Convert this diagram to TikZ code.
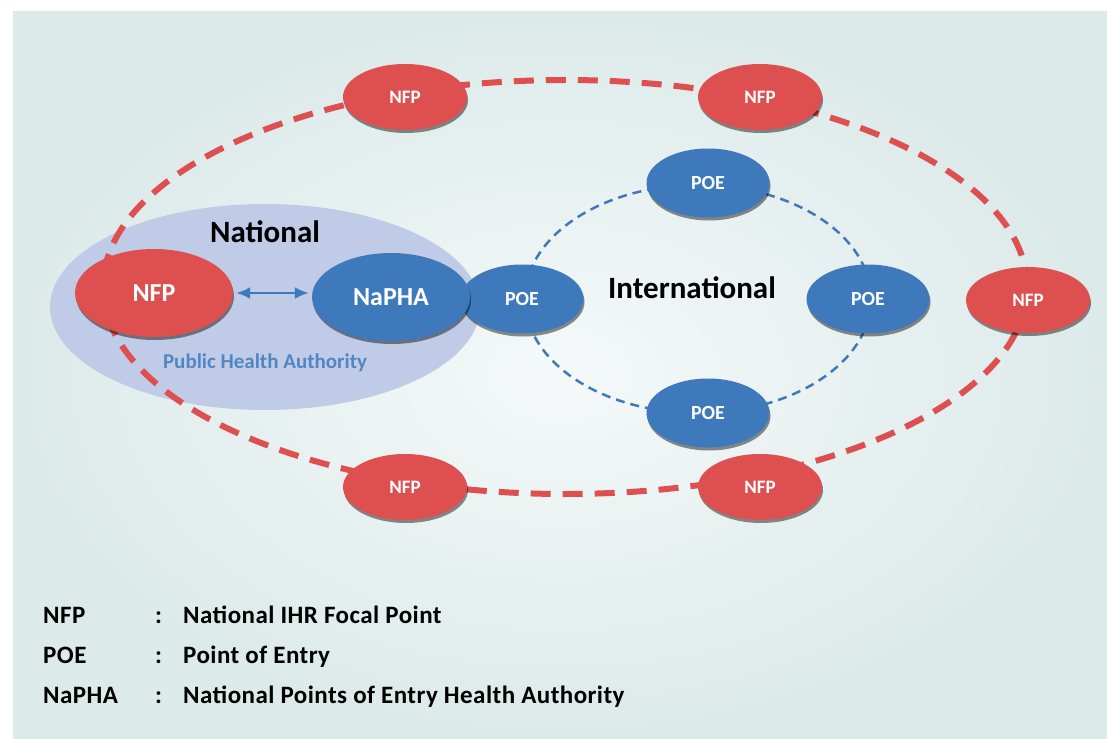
\documentclass[tikz,border=0pt]{standalone}
\usepackage{fontspec}
\setmainfont{Carlito}
\usetikzlibrary{shapes.geometric,shadows,arrows.meta}
\definecolor{nfpred}{HTML}{DE504F}
\definecolor{poeblue}{HTML}{3E79BC}
\definecolor{natblue}{HTML}{BFCBE7}
\definecolor{panel}{HTML}{DDEAEA}

\begin{document}
\begin{tikzpicture}[x=1pt,y=-1pt,
  every node/.style={font=\bfseries},
  oval/.style={ellipse,inner sep=0pt,text=white,
    drop shadow={shadow xshift=1pt,shadow yshift=-3pt,opacity=.45,fill=black}},
  nfp/.style={oval,fill=nfpred,minimum width=124pt,minimum height=66pt,
    font=\bfseries\fontsize{19}{19}\selectfont},
  poe/.style={oval,fill=poeblue,minimum width=123pt,minimum height=69pt,
    font=\bfseries\fontsize{20}{20}\selectfont},
  big/.style={minimum width=158pt,minimum height=88pt,
    font=\bfseries\fontsize{26}{26}\selectfont},
  title/.style={font=\bfseries\fontsize{31}{31}\selectfont},
  legend/.style={anchor=base west,inner sep=0pt,
    font=\bfseries\fontsize{25}{25}\selectfont\addfontfeature{LetterSpace=1.8}}]
 \useasboundingbox (0,0) rectangle (1107,738);
 \shade[inner color=white!70!panel,outer color=panel] (13,12) rectangle (1107,738);
 % national area and the two rings
 \fill[natblue] (265,307) ellipse [x radius=215pt,y radius=103pt];
 \coordinate (ringnfp) at (565,287);
 \coordinate (ringpoe) at (698,299);
 \draw[nfpred,line width=6pt,dash pattern=on 20pt off 12pt] (ringnfp) ellipse [x radius=462pt,y radius=207pt];
 \draw[poeblue,line width=2.5pt,dash pattern=on 9pt off 6pt] (ringpoe) ellipse [x radius=173pt,y radius=114pt];
 % focal points and points of entry
 \foreach \n/\x/\y in {nfpa/405/97,nfpb/760/97,nfpc/1028/300,nfpd/405/487,nfpe/760/487}{
  \node[nfp] (\n) at (\x,\y) {NFP};
 }
 \foreach \n/\x/\y in {poea/522/299,poeb/708/183,poec/868/299,poed/708/413}{
  \node[poe] (\n) at (\x,\y) {POE};
 }
 \node[nfp,big] (nfpnat) at (154,293) {NFP};
 \node[poe,big] (napha) at (391,297) {NaPHA};
 \draw[poeblue,line width=2.5pt,{Latex[length=14pt,width=12pt]}-{Latex[length=14pt,width=12pt]},
  shorten <=3pt,shorten >=3pt] (nfpnat.east) -- (nfpnat.east -| napha.west);
 \node[title] (national) at (265,232) {National};
 \node[title] (intl) at (692,288) {International};
 \node[text=poeblue!90!white,font=\bfseries\fontsize{21}{21}\selectfont] (pha) at (265,363) {Public Health Authority};
 % legend
 \foreach \k/\t/\y in {NFP/National IHR Focal Point/623,POE/Point of Entry/663,NaPHA/National Points of Entry Health Authority/703}{
  \node[legend] at (43,\y) {\k};
  \node[legend] at (155,\y) {:};
  \node[legend] at (183,\y) {\t};
 }
\end{tikzpicture}
\end{document}
